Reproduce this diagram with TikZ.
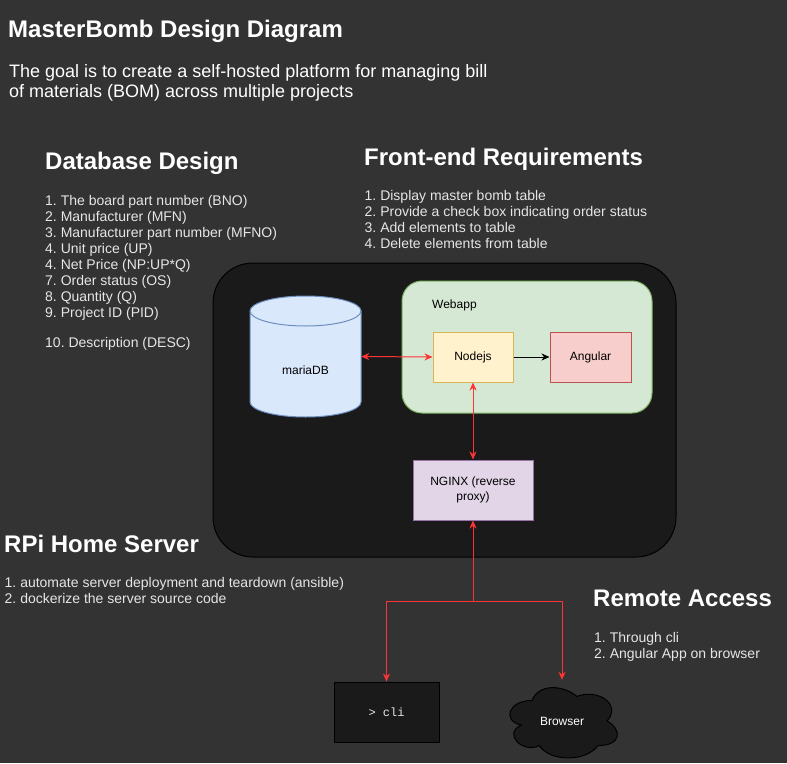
\documentclass[tikz,border=0pt]{standalone}
\usepackage{fontspec}
\setmainfont{Liberation Sans}
\setmonofont{Liberation Mono}
\usetikzlibrary{arrows.meta}
\frenchspacing
\definecolor{bgc}{HTML}{333333}
\definecolor{srvc}{HTML}{1A1A1A}
\definecolor{arrred}{HTML}{FF3333}
\definecolor{listc}{HTML}{E6E6E6}
\definecolor{dbfill}{HTML}{DAE8FC}
\definecolor{dbline}{HTML}{6C8EBF}
\definecolor{grfill}{HTML}{D5E8D4}
\definecolor{grline}{HTML}{82B366}
\definecolor{yefill}{HTML}{FFF2CC}
\definecolor{yeline}{HTML}{D6B656}
\definecolor{rdfill}{HTML}{F8CECC}
\definecolor{rdline}{HTML}{B85450}
\definecolor{pufill}{HTML}{E1D5E7}
\definecolor{puline}{HTML}{9673A6}
\tikzset{
  >={Stealth[length=8pt,width=7pt,inset=2.5pt]},
  heading/.style={anchor=base west, inner sep=0, text=white, font=\fontsize{24}{28.8}\selectfont\bfseries},
  listtext/.style={anchor=north west, inner sep=0, align=left, text=listc, font=\frenchspacing\fontsize{14}{16}\selectfont},
  compbox/.style={line width=1pt, inner sep=0, minimum height=50pt, align=center, text=black, font=\fontsize{12}{14.4}\selectfont},
  darkbox/.style={draw=black, fill=srvc, line width=1pt, inner sep=0},
  link/.style={line width=1pt, draw=arrred},
}
\begin{document}
\begin{tikzpicture}[x=1pt,y=-1pt]
\fill[bgc] (0,0) rectangle (787,763);
\useasboundingbox (0,0) rectangle (787,763);

% texts
\node[heading] (title) at (8,37.3) {MasterBomb Design Diagram};
\node[anchor=north west, inner sep=0, align=left, text=white, font=\frenchspacing\fontsize{18}{19.5}\selectfont] (goal) at (9,64.3) {The goal is to create a self-hosted platform for managing bill\\of materials (BOM) across multiple projects};

\node[heading] (dbhead) at (45,169.3) {Database Design};
\node[listtext] (dblist) at (45,195.5) {1. The board part number (BNO)\\2. Manufacturer (MFN)\\3. Manufacturer part number (MFNO)\\4. Unit price (UP)\\4. Net Price (NP:UP*Q)\\7. Order status (OS)\\8. Quantity (Q)\\9. Project ID (PID)\\[13.4pt]10. Description (DESC)};

\node[heading] (fehead) at (364,165.3) {Front-end Requirements};
\node[listtext] (felist) at (364.5,189.8) {1. Display master bomb table\\2. Provide a check box indicating order status\\3. Add elements to table\\4. Delete elements from table};

\node[heading] (rpihead) at (4,552.4) {RPi Home Server};
\node[listtext] (rpilist) at (4.5,577.5) {1. automate server deployment and teardown (ansible)\\2. dockerize the server source code};

\node[heading] (rahead) at (593,606.6) {Remote Access};
\node[listtext] (ralist) at (594,631.8) {1. Through cli\\2. Angular App on browser};

% server box
\node[darkbox, rounded corners=40pt, minimum width=463pt, minimum height=294pt] (server) at (444.5,410) {};
\node[draw=grline, fill=grfill, line width=1pt, rounded corners=20pt, minimum width=250pt, minimum height=132pt, inner sep=0] (webapp) at (527,347) {};
\node[anchor=west, inner sep=0, font=\fontsize{12}{14.4}\selectfont] (webapplabel) at (432,305) {Webapp};

% mariaDB cylinder
\filldraw[draw=dbline, fill=dbfill, line width=1pt] (250,311) -- (250,402) .. controls (250,410.28) and (274.85,417) .. (305.5,417) .. controls (336.15,417) and (361,410.28) .. (361,402) -- (361,311) .. controls (361,302.72) and (336.15,296) .. (305.5,296) .. controls (274.85,296) and (250,302.72) .. (250,311) -- cycle;
\draw[dbline, line width=1pt] (250,311) .. controls (250,319.28) and (274.85,326) .. (305.5,326) .. controls (336.15,326) and (361,319.28) .. (361,311);
\node[minimum width=111pt, minimum height=121pt, inner sep=0] (db) at (305.5,356.5) {};
\node[inner sep=0, font=\fontsize{12}{14.4}\selectfont] (dblabel) at (305.5,370) {mariaDB};

\node[compbox, draw=yeline, fill=yefill, minimum width=80pt] (nodejs) at (473,357) {Nodejs};
\node[compbox, draw=rdline, fill=rdfill, minimum width=81pt] (angular) at (590.5,357) {Angular};
\node[compbox, draw=puline, fill=pufill, minimum width=120pt, minimum height=60pt] (nginx) at (473,490) {NGINX (reverse\\proxy)};

\node[darkbox, minimum width=105pt, minimum height=60pt, text=listc, font=\ttfamily\fontsize{12}{14}\selectfont] (cli) at (386.5,712) {> cli};

% browser cloud
\begin{scope}[shift={(502,680)}, x=120pt, y=-82pt]
\filldraw[draw=black, fill=srvc, line width=1pt] (0.25,0.25) .. controls (0.05,0.25) and (0,0.5) .. (0.16,0.55) .. controls (0,0.66) and (0.18,0.9) .. (0.31,0.8) .. controls (0.4,1) and (0.7,1) .. (0.8,0.8) .. controls (1,0.8) and (1,0.6) .. (0.875,0.5) .. controls (1,0.3) and (0.8,0.1) .. (0.625,0.2) .. controls (0.5,0.05) and (0.3,0.05) .. (0.25,0.25) -- cycle;
\end{scope}
\node[minimum width=120pt, minimum height=82pt, inner sep=0, text=white, font=\fontsize{12}{14.4}\selectfont] (browser) at (562,721) {Browser};

% connectors
\draw[link, <->] (db.east) -- (nodejs.west);
\draw[line width=1pt, ->] (nodejs) -- (angular);
\draw[link, <->] (nodejs) -- (nginx);
\coordinate (fork) at (473,601);
\draw[link, <->] (nginx.south) -- (fork) -| (cli.north);
\draw[link, ->] (fork) -| (browser.north);
\end{tikzpicture}
\end{document}
